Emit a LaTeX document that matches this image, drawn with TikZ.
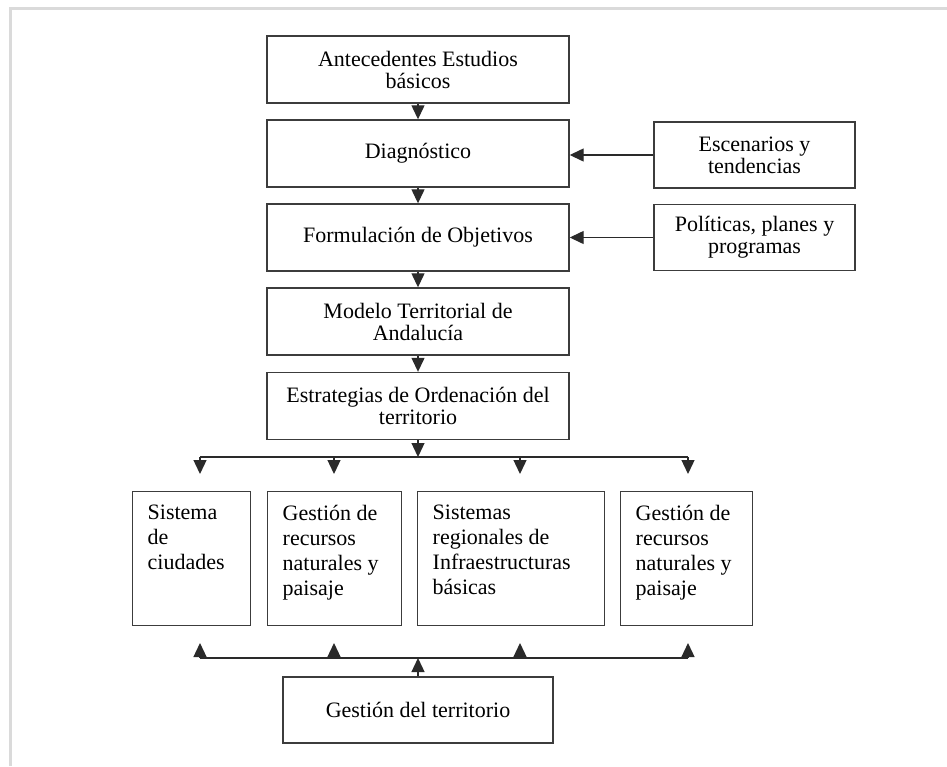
\documentclass[tikz,border=0pt]{standalone}
\usepackage{fontspec}
\setmainfont{Liberation Serif}
\usetikzlibrary{arrows.meta,calc}
\definecolor{framec}{HTML}{DADADA}
\definecolor{boxc}{HTML}{3C3C3C}
\definecolor{linec}{HTML}{2A2A2A}
\newcommand\mysz{\fontsize{22}{22}\selectfont}
\newcommand\mybot{\fontsize{22}{25}\selectfont}
\tikzset{
  cbox/.style={draw=boxc, line width=1.4pt, minimum width=302pt, minimum height=67pt,
    align=center, inner sep=0pt, font=\mysz},
  rbox/.style={draw=boxc, line width=1.4pt, minimum width=201pt, minimum height=66pt,
    align=center, inner sep=0pt, font=\mysz},
  gbox/.style={draw=boxc, line width=1.4pt, minimum width=270pt, minimum height=66pt,
    align=center, inner sep=0pt, font=\mysz},
  fbox/.style={draw=boxc, line width=1.4pt, inner xsep=15pt, inner ysep=13pt,
    anchor=north west, font=\mybot},
  conn/.style={draw=linec, line width=1.3pt, -{Triangle[length=14pt,width=13pt]}},
  plain/.style={draw=linec, line width=1.3pt},
}
\newcommand\fcont[2]{\parbox[c][108pt][t]{#1}{\raggedright #2}}
\begin{document}
\begin{tikzpicture}[x=1pt,y=-1pt]
\useasboundingbox (0,0) rectangle (947,766);
% frame
\draw[framec, line width=2.7pt] (10.7,766) -- (10.7,8.7) -- (947,8.7);

% main column
\node[cbox] (A) at (418,69.5) {Antecedentes Estudios\\básicos};
\node[cbox] (B) at (418,153.5) {Diagnóstico};
\node[cbox] (C) at (418,237.5) {Formulación de Objetivos};
\node[cbox] (D) at (418,321.5) {Modelo Territorial de\\Andalucía};
\node[cbox] (E) at (418,406) {Estrategias de Ordenación del\\territorio};

% right column
\node[rbox] (R1) at (754.5,155) {Escenarios y\\tendencias};
\node[rbox] (R2) at (754.5,237.5) {Políticas, planes y\\programas};

\draw[conn] (A) -- (B);
\draw[conn] (B) -- (C);
\draw[conn] (C) -- (D);
\draw[conn] (D) -- (E);
\draw[conn] (R1.west) -- (R1.west -| B.east);
\draw[conn] (R2.west) -- (R2.west -| C.east);

% distribution line
\coordinate (tl) at (200,457);
\coordinate (tr) at (688,457);
\coordinate (tc) at (418,457);
\draw[plain] (tl) -- (tr);
\draw[conn] (E.south) -- (tc);
\coordinate (d1) at (200,474);
\coordinate (d2) at (334,474);
\coordinate (d3) at (520,474);
\coordinate (d4) at (688,474);
\draw[conn] (tl) -- (d1);
\draw[conn] (334,457) -- (d2);
\draw[conn] (520,457) -- (d3);
\draw[conn] (tr) -- (d4);

% bottom boxes
\node[fbox] (F1) at (132,491) {\fcont{88pt}{Sistema\\de\\ciudades}};
\node[fbox] (F2) at (267,491) {\fcont{104pt}{Gestión de\\recursos\\naturales y\\paisaje}};
\node[fbox] (F3) at (417,491) {\fcont{157pt}{Sistemas\\regionales de\\Infraestructuras\\básicas}};
\node[fbox] (F4) at (620,491) {\fcont{102pt}{Gestión de\\recursos\\naturales y\\paisaje}};

% gestion
\node[gbox] (G) at (418,710) {Gestión del territorio};
\coordinate (bl) at (200,658);
\coordinate (br) at (688,658);
\coordinate (bc) at (418,658);
\draw[plain] (bl) -- (br);
\draw[conn] (G.north) -- (bc);
\coordinate (u1) at (200,643);
\coordinate (u2) at (334,643);
\coordinate (u3) at (520,643);
\coordinate (u4) at (688,643);
\draw[conn] (bl) -- (u1);
\draw[conn] (334,658) -- (u2);
\draw[conn] (520,658) -- (u3);
\draw[conn] (br) -- (u4);
\end{tikzpicture}
\end{document}
